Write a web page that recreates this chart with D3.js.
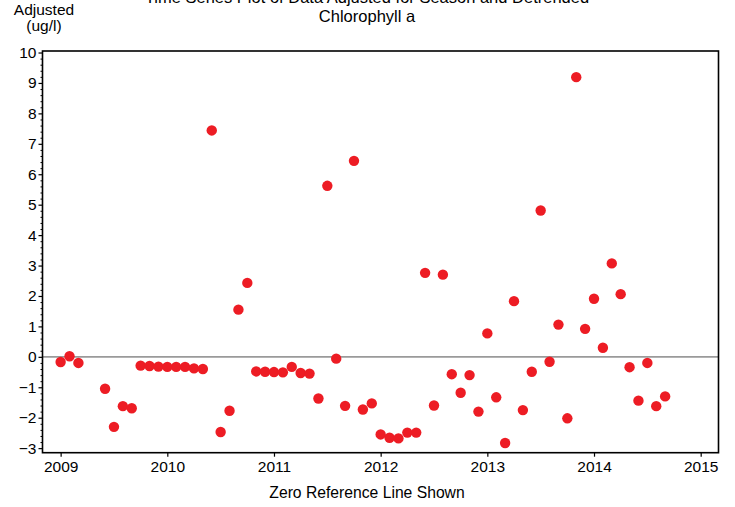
<!DOCTYPE html>
<html>
<head>
<meta charset="utf-8">
<script src="https://cdn.jsdelivr.net/npm/d3@7"></script>
<style>
  html, body { margin: 0; padding: 0; background: #fff; }
  svg { display: block; font-family: "Liberation Sans", Arial, sans-serif; }
</style>
</head>
<body>
<svg id="chart" width="735" height="507"></svg>
<script>
// ---- data (monthly observations, "YYYY-MM") ----
const dates = [
  "2009-01","2009-02","2009-03","2009-06","2009-07","2009-08","2009-09","2009-10","2009-11","2009-12",
  "2010-01","2010-02","2010-03","2010-04","2010-05","2010-06","2010-07","2010-08","2010-09","2010-10","2010-11","2010-12",
  "2011-01","2011-02","2011-03","2011-04","2011-05","2011-06","2011-07","2011-08","2011-09","2011-10","2011-11","2011-12",
  "2012-01","2012-02","2012-03","2012-04","2012-05","2012-06","2012-07","2012-08","2012-09","2012-10","2012-11","2012-12",
  "2013-01","2013-02","2013-03","2013-04","2013-05","2013-06","2013-07","2013-08","2013-09","2013-10","2013-11","2013-12",
  "2014-01","2014-02","2014-03","2014-04","2014-05","2014-06","2014-07","2014-08","2014-09"
];
const adjusted = [
  -0.17, 0.02, -0.20, -1.05, -2.30, -1.62, -1.69, -0.29, -0.30, -0.32,
  -0.33, -0.33, -0.33, -0.38, -0.40, 7.44, -2.47, -1.77, 1.55, 2.43, -0.48, -0.49,
  -0.50, -0.51, -0.33, -0.53, -0.55, -1.37, 5.62, -0.06, -1.61, 6.44, -1.73, -1.53,
  -2.55, -2.66, -2.68, -2.49, -2.49, 2.76, -1.60, 2.70, -0.57, -1.18, -0.60, -1.80,
  0.77, -1.33, -2.83, 1.83, -1.75, -0.49, 4.81, -0.16, 1.06, -2.02, 9.19, 0.92,
  1.91, 0.30, 3.07, 2.06, -0.34, -1.44, -0.20, -1.62, -1.30
];
const yearTicks = [2009, 2010, 2011, 2012, 2013, 2014, 2015];
const valueTicks = [-3, -2, -1, 0, 1, 2, 3, 4, 5, 6, 7, 8, 9, 10];
const titleLines = ["Time Series Plot of Data Adjusted for Season and Detrended", "Chlorophyll a"];
const yLabelLines = ["Adjusted", "(ug/l)"];
const xLabel = "Zero Reference Line Shown";

// ---- layout ----
const svg = d3.select("#chart");
const mLeft = 42.5, mRight = 718.5, mTop = 51, mBottom = 452.7;

function toYear(s) {
  const [yy, mm] = s.split("-").map(Number);
  return yy + (mm - 1) / 12;
}
const points = dates.map((d, i) => ({ t: toYear(d), v: adjusted[i] }));

const x = d3.scaleLinear().domain([2008.83, 2015.167]).range([mLeft, mRight]);
const y = d3.scaleLinear().domain([-3.15, 10.05]).range([mBottom, mTop]);

// zero reference line
svg.append("line")
  .attr("x1", mLeft).attr("x2", mRight)
  .attr("y1", y(0)).attr("y2", y(0))
  .attr("stroke", "#9a9a9a").attr("stroke-width", 1.6);

// points
svg.append("g").selectAll("circle").data(points).join("circle")
  .attr("cx", d => x(d.t)).attr("cy", d => y(d.v)).attr("r", 5.2)
  .attr("fill", "#ed1c24");

// frame
svg.append("rect")
  .attr("x", mLeft).attr("y", mTop)
  .attr("width", mRight - mLeft).attr("height", mBottom - mTop)
  .attr("fill", "none").attr("stroke", "#000").attr("stroke-width", 1.6);

// y axis: major + minor ticks
const minorTicks = d3.range(-3, 10.001, 0.2).map(v => Math.round(v * 10) / 10)
  .filter(v => !valueTicks.includes(v));
const yAxis = d3.axisLeft(y).tickValues(valueTicks).tickSize(4).tickPadding(2)
  .tickFormat(d3.format("d"));
const gy = svg.append("g").attr("transform", `translate(${mLeft},0)`).call(yAxis);
gy.select(".domain").remove();
gy.selectAll("text").attr("font-size", 15.5).attr("fill", "#000")
  .attr("font-family", "Liberation Sans, Arial, sans-serif");
gy.selectAll("line").attr("stroke", "#000").attr("stroke-width", 1.2);
const gyMinor = svg.append("g").attr("transform", `translate(${mLeft},0)`)
  .call(d3.axisLeft(y).tickValues(minorTicks).tickSize(2).tickFormat(""));
gyMinor.select(".domain").remove();
gyMinor.selectAll("line").attr("stroke", "#000").attr("stroke-width", 1);

// x axis
const xAxis = d3.axisBottom(x).tickValues(yearTicks).tickSize(4).tickPadding(4)
  .tickFormat(d3.format("d"));
const gx = svg.append("g").attr("transform", `translate(0,${mBottom})`).call(xAxis);
gx.select(".domain").remove();
gx.selectAll("text").attr("font-size", 15.5).attr("fill", "#000")
  .attr("font-family", "Liberation Sans, Arial, sans-serif");
gx.selectAll("line").attr("stroke", "#000").attr("stroke-width", 1.2);

// titles
svg.append("g").selectAll("text").data(titleLines).join("text")
  .attr("x", 367).attr("y", (d, i) => 3 + i * 19)
  .attr("text-anchor", "middle").attr("font-size", 16.5).attr("fill", "#000")
  .text(d => d);

svg.append("g").selectAll("text").data(yLabelLines).join("text")
  .attr("x", 44).attr("y", (d, i) => 15 + i * 16)
  .attr("text-anchor", "middle").attr("font-size", 15.5).attr("fill", "#000")
  .text(d => d);

svg.append("text")
  .attr("x", 367).attr("y", 498)
  .attr("text-anchor", "middle").attr("font-size", 15.7).attr("fill", "#000")
  .text(xLabel);
</script>
</body>
</html>
